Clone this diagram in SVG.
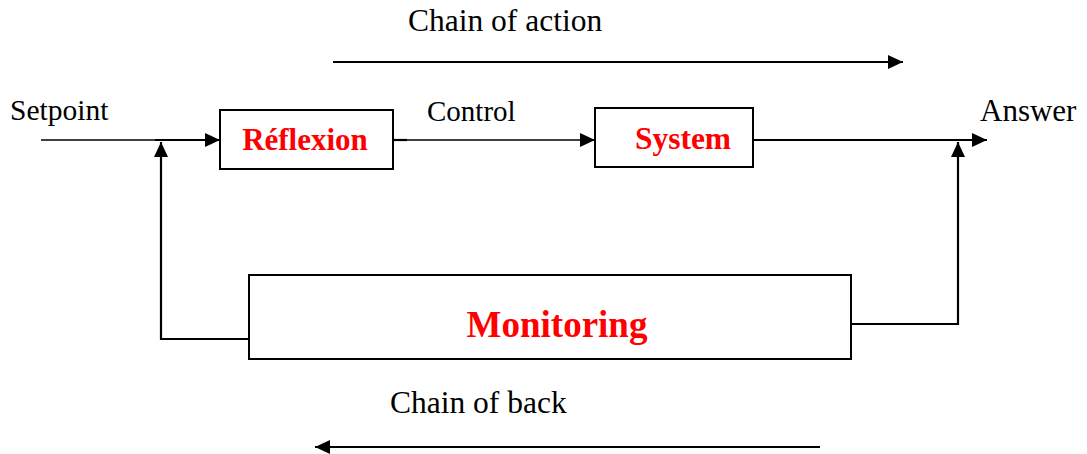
<svg xmlns="http://www.w3.org/2000/svg" width="1087" height="454" viewBox="0 0 1087 454">
  <defs>
    <marker id="arrow" markerUnits="userSpaceOnUse" markerWidth="15" markerHeight="14" refX="15" refY="7" orient="auto">
      <path d="M0,0 L15,7 L0,14 z" fill="#000"/>
    </marker>
    <style>
      .box { fill: #fff; stroke: #000; stroke-width: 2; }
      .wire { fill: none; stroke: #000; stroke-width: 2.2; }
      .thin { fill: none; stroke: #000; stroke-width: 1.4; }
      .lbl { font-family: "Liberation Serif", "Times New Roman", serif; fill: #000; }
      .name { font-family: "Liberation Serif", "Times New Roman", serif; font-weight: bold; fill: #ff0000; text-anchor: middle; }
    </style>
  </defs>
  <rect width="1087" height="454" fill="#fff"/>

  <!-- connectors -->
  <g id="connectors">
    <path class="thin" d="M41,140 H156"/>
    <path class="wire" d="M155,140 H220" marker-end="url(#arrow)"/>
    <path class="wire" d="M393,140 H407"/>
    <path class="thin" d="M407,140 H595" marker-end="url(#arrow)"/>
    <path class="wire" d="M753,140 H987" marker-end="url(#arrow)"/>
    <path class="wire" d="M249,339 H161 V142" marker-end="url(#arrow)"/>
    <path class="wire" d="M851,324 H958 V142" marker-end="url(#arrow)"/>
    <path class="wire" d="M333,62 H903" marker-end="url(#arrow)"/>
    <path class="wire" d="M820,447 H315" marker-end="url(#arrow)"/>
  </g>

  <!-- blocks -->
  <g id="reflexion">
    <rect class="box" x="220" y="110" width="173" height="59"/>
    <text class="name" x="305" y="150" font-size="31">Réflexion</text>
  </g>
  <g id="system">
    <rect class="box" x="595" y="108" width="158" height="59"/>
    <text class="name" x="683" y="149" font-size="31.5">System</text>
  </g>
  <g id="monitoring">
    <rect class="box" x="249" y="275" width="602" height="84"/>
    <text class="name" x="557" y="337" font-size="37">Monitoring</text>
  </g>

  <!-- labels -->
  <g id="labels">
    <text class="lbl" x="10" y="120" font-size="29.5">Setpoint</text>
    <text class="lbl" x="427" y="121" font-size="29">Control</text>
    <text class="lbl" x="980" y="121" font-size="31">Answer</text>
    <text class="lbl" x="408" y="31" font-size="31.5">Chain of action</text>
    <text class="lbl" x="390" y="413" font-size="31.5">Chain of back</text>
  </g>
</svg>
